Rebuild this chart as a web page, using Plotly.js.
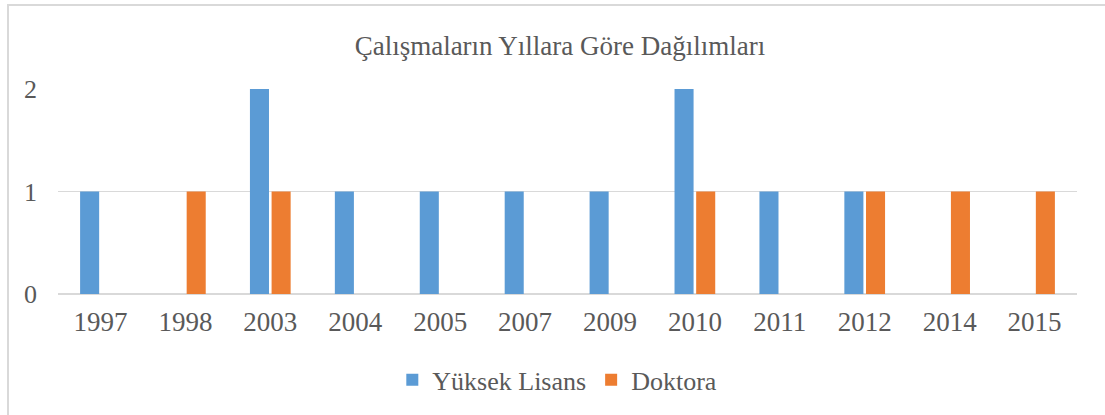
<!DOCTYPE html>
<html>
<head>
<meta charset="utf-8">
<script src="https://cdn.plot.ly/plotly-3.0.1.min.js"></script>
<style>
  html, body { margin: 0; padding: 0; background: #fff; }
  #wrap { position: relative; width: 1105px; height: 415px; }
  #frame { position: absolute; left: 7px; top: 4px; right: 0; bottom: 0; border-top: 2px solid #d9d9d9; border-left: 2px solid #d9d9d9; pointer-events: none; }
  #chart { position: absolute; left: 0; top: 0; width: 1105px; height: 415px; }
</style>
</head>
<body>
<div id="wrap">
  <div id="chart"></div>
  <div id="frame"></div>
</div>
<script>
const categories = ['1997', '1998', '2003', '2004', '2005', '2007', '2009', '2010', '2011', '2012', '2014', '2015'];
const yuksekLisans = [1, null, 2, 1, 1, 1, 1, 2, 1, 1, null, null];
const doktora = [null, 1, 1, null, null, null, null, 1, null, 1, 1, 1];
const seriesNames = ['Yüksek Lisans', 'Doktora'];
const yTicks = [0, 1, 2];

const font = "'Liberation Serif', 'Times New Roman', serif";
const textColor = '#595959';

const traces = [
  { type: 'bar', name: seriesNames[0], x: categories, y: yuksekLisans, marker: { color: '#5B9BD5' } },
  { type: 'bar', name: seriesNames[1], x: categories, y: doktora, marker: { color: '#ED7D31' } }
];

const layout = {
  width: 1105, height: 415,
  margin: { l: 58, r: 28, t: 89, b: 121 },
  paper_bgcolor: 'rgba(0,0,0,0)', plot_bgcolor: '#fff',
  barmode: 'group', bargap: 0.49, bargroupgap: 0.12,
  font: { family: font, color: textColor, size: 27 },
  title: { text: 'Çalışmaların Yıllara Göre Dağılımları', font: { family: font, size: 27, color: textColor }, x: 0.4926, xref: 'paper', xanchor: 'center', y: 0.89, yanchor: 'middle', yref: 'container' },
  xaxis: { type: 'category', tickfont: { size: 27, family: font, color: textColor }, showgrid: false, showline: false, ticks: '', zeroline: false, fixedrange: true, ticklabelstandoff: 9 },
  yaxis: { range: [0, 2], tickvals: yTicks, ticktext: yTicks.map(String), tickfont: { size: 26, family: font, color: textColor }, showgrid: true, gridcolor: '#d9d9d9', gridwidth: 1.5, zeroline: true, zerolinecolor: '#d9d9d9', zerolinewidth: 2, showline: false, ticks: '', ticklabelstandoff: 20, fixedrange: true },
  legend: { orientation: 'h', x: 0.49, xanchor: 'center', y: 0.085, yref: 'container', yanchor: 'middle', font: { size: 26, family: font, color: textColor }, itemwidth: 30, traceorder: 'normal' },
  showlegend: true
};

Plotly.newPlot('chart', traces, layout, { displayModeBar: false, staticPlot: true });
</script>
</body>
</html>
